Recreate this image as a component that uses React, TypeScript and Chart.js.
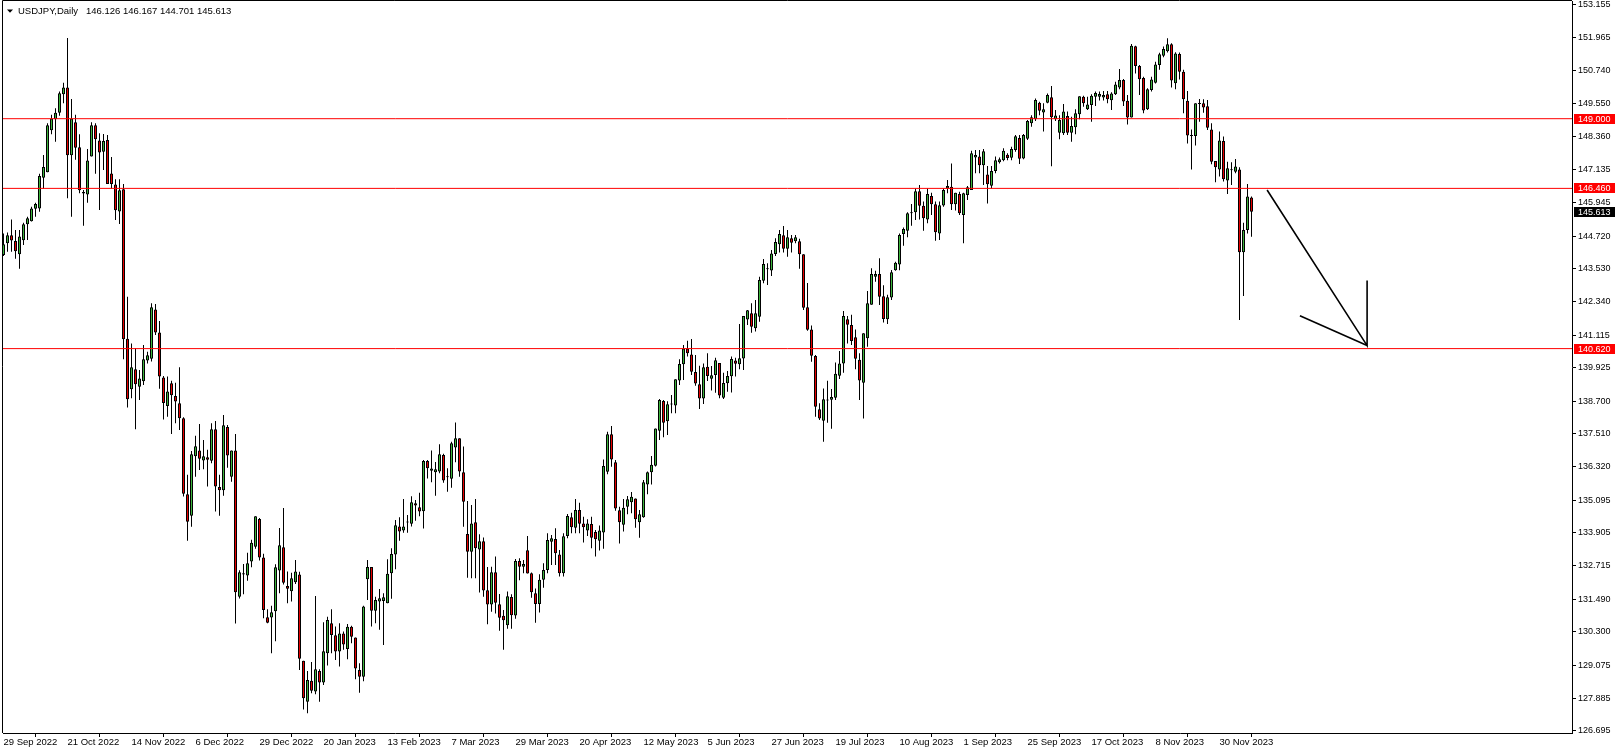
import React, { useEffect, useRef } from 'react';
import { Chart, registerables } from 'chart.js';

Chart.register(...registerables);

const symbolTitle = 'USDJPY,Daily';

const opens = [
  144.03, 144.46, 144.75, 144.54, 144.06, 144.57, 145.15, 145.26, 145.72, 145.73,
  146.85, 147.05, 148.58, 148.98, 149.22, 149.89, 150.14, 147.67, 148.87, 147.96,
  146.33, 146.24, 147.62, 148.76, 148.21, 147.80, 148.22, 147.00, 146.60, 145.62,
  146.43, 140.98, 139.14, 139.87, 139.23, 139.43, 140.19, 140.25, 142.05, 141.21,
  139.57, 138.53, 139.36, 138.89, 138.63, 138.08, 135.31, 134.53, 136.70, 136.91,
  136.54, 136.66, 136.53, 137.68, 135.58, 135.46, 137.76, 135.95, 136.91, 131.58,
  132.39, 132.35, 132.86, 133.40, 134.41, 133.01, 130.83, 130.82, 131.05, 132.53,
  133.38, 131.97, 131.78, 132.10, 132.39, 129.24, 127.75, 128.51, 128.12, 128.87,
  128.45, 129.52, 130.61, 130.17, 129.58, 130.24, 129.67, 130.48, 130.09, 128.91,
  128.66, 132.21, 132.66, 131.07, 131.40, 131.42, 131.34, 132.43, 133.12, 134.14,
  133.99, 134.28, 134.24, 134.98, 134.84, 134.69, 136.52, 136.17, 136.11, 136.14,
  136.74, 135.94, 135.88, 137.02, 137.35, 136.11, 133.86, 133.22, 134.29, 133.30,
  133.60, 131.81, 131.29, 132.47, 131.30, 130.88, 130.54, 131.57, 130.89, 132.88,
  132.67, 133.27, 132.43, 131.70, 131.31, 132.20, 132.55, 133.58, 133.68, 133.12,
  132.43, 133.79, 134.47, 134.09, 134.74, 134.25, 133.99, 134.23, 133.94, 133.62,
  133.92, 136.13, 137.50, 136.48, 134.73, 134.20, 134.86, 135.02, 135.16, 134.29,
  134.47, 135.67, 136.11, 136.35, 137.63, 138.71, 137.97, 138.58, 138.55, 139.46,
  140.05, 140.62, 140.41, 139.77, 139.32, 138.80, 139.96, 139.52, 139.66, 140.10,
  138.83, 139.36, 139.61, 140.19, 140.05, 140.26, 141.68, 141.91, 141.36, 141.78,
  143.09, 143.51, 143.47, 144.07, 144.42, 144.75, 144.26, 144.64, 144.53, 144.53,
  144.06, 142.13, 141.32, 140.35, 138.41, 137.99, 138.73, 138.76, 138.83, 139.63,
  140.08, 141.69, 141.48, 141.03, 140.21, 139.38, 141.00, 142.22, 143.24, 143.34,
  142.53, 141.69, 142.48, 143.48, 143.69, 144.80, 144.92, 145.55, 145.59, 146.36,
  145.83, 145.33, 146.18, 145.88, 144.82, 145.84, 146.46, 146.52, 145.88, 146.26,
  145.49, 146.22, 146.40, 147.59, 147.62, 147.30, 146.97, 146.56, 147.09, 147.41,
  147.49, 147.69, 147.58, 147.86, 148.30, 147.55, 148.27, 148.83, 148.98, 149.58,
  149.23, 149.58, 149.78, 148.98, 148.49, 148.47, 149.10, 148.49, 148.69, 149.16,
  149.80, 149.34, 149.50, 149.80, 149.80, 149.77, 149.89, 149.67, 149.89, 150.14,
  150.41, 149.65, 149.04, 151.64, 150.92, 150.48, 149.34, 150.05, 150.31, 150.96,
  151.29, 151.46, 151.71, 150.29, 151.36, 150.71, 149.65, 148.39, 148.37, 149.54,
  149.56, 149.45, 148.61, 147.46, 147.15, 148.19, 146.75, 147.12, 147.07, 147.15,
  144.13, 144.94, 146.126,
];

const highs = [
  144.82, 144.85, 145.33, 144.94, 144.94, 145.21, 145.43, 145.79, 145.94, 146.99,
  147.68, 148.83, 149.14, 149.38, 149.99, 150.31, 151.94, 149.72, 149.14, 148.43,
  146.40, 147.90, 148.87, 148.83, 148.47, 148.44, 148.41, 147.60, 146.79, 146.79,
  146.62, 142.51, 140.81, 140.63, 139.84, 140.75, 140.51, 142.27, 142.25, 141.63,
  139.62, 139.60, 139.45, 139.38, 139.94, 138.12, 136.02, 136.89, 137.44, 137.87,
  137.29, 136.93, 137.90, 137.98, 136.02, 138.20, 137.84, 136.91, 137.51, 132.54,
  132.77, 133.18, 133.65, 134.51, 134.45, 133.14, 131.12, 131.25, 132.76, 134.08,
  134.81, 132.50, 132.45, 132.92, 132.49, 129.24, 128.87, 129.20, 131.60, 128.93,
  130.65, 130.85, 131.12, 130.49, 130.61, 130.31, 130.58, 130.52, 130.09, 129.15,
  131.25, 132.92, 132.66, 131.58, 131.86, 131.70, 132.94, 133.34, 134.37, 134.47,
  135.14, 134.56, 135.24, 135.10, 135.37, 136.56, 136.56, 136.91, 136.49, 137.13,
  136.79, 136.26, 137.23, 137.93, 137.35, 137.05, 135.07, 134.92, 135.14, 133.85,
  133.74, 132.66, 132.67, 133.04, 131.68, 131.09, 131.77, 131.67, 132.95, 132.98,
  132.92, 133.79, 132.46, 131.88, 132.40, 132.80, 133.89, 133.83, 134.07, 133.28,
  133.89, 134.59, 134.64, 135.14, 135.00, 134.49, 134.40, 134.49, 134.01, 134.17,
  136.58, 137.59, 137.80, 136.56, 134.86, 135.14, 135.25, 135.39, 135.16, 134.74,
  135.83, 136.14, 136.71, 137.71, 138.78, 138.75, 138.70, 138.93, 139.50, 140.23,
  140.75, 140.91, 140.97, 140.39, 140.00, 140.08, 140.45, 139.99, 140.29, 140.10,
  139.74, 139.80, 140.33, 140.29, 141.52, 141.81, 142.03, 142.27, 142.39, 143.24,
  143.89, 143.73, 144.21, 144.64, 144.94, 145.09, 144.94, 144.76, 144.76, 144.62,
  144.06, 143.01, 141.46, 140.39, 138.63, 139.17, 139.45, 139.15, 140.11, 140.53,
  141.99, 141.81, 141.85, 141.32, 140.45, 141.18, 142.72, 143.55, 143.46, 143.91,
  142.93, 142.58, 143.49, 143.79, 144.82, 145.03, 145.59, 145.89, 146.46, 146.58,
  145.98, 146.46, 146.30, 145.98, 145.98, 146.46, 146.77, 147.37, 146.30, 146.34,
  146.30, 146.55, 147.83, 147.86, 147.86, 147.90, 147.28, 147.28, 147.62, 147.59,
  147.92, 147.74, 147.98, 148.41, 148.41, 148.44, 148.95, 149.13, 149.74, 149.62,
  149.56, 149.92, 150.19, 149.32, 149.13, 149.54, 149.26, 149.07, 149.34, 149.82,
  149.84, 149.80, 149.89, 149.99, 149.99, 150.01, 150.01, 149.96, 150.35, 150.81,
  150.45, 149.86, 151.72, 151.66, 150.96, 150.53, 150.11, 150.53, 151.08, 151.40,
  151.63, 151.93, 151.75, 151.42, 151.41, 150.78, 150.01, 148.61, 149.56, 149.72,
  149.71, 149.68, 148.83, 147.46, 148.53, 148.35, 147.43, 147.41, 147.53, 147.23,
  145.21, 146.62, 146.167,
];

const lows = [
  144.00, 144.15, 144.15, 143.90, 143.53, 144.40, 144.58, 145.25, 145.43, 145.61,
  146.45, 147.05, 148.43, 148.16, 149.11, 149.56, 146.10, 145.43, 147.50, 146.28,
  145.10, 145.94, 147.62, 146.99, 145.67, 147.13, 146.62, 146.46, 145.31, 145.16,
  140.23, 138.47, 138.81, 137.68, 138.75, 139.29, 140.08, 140.15, 141.12, 139.16,
  138.04, 138.14, 137.51, 137.90, 137.65, 135.23, 133.62, 134.13, 135.95, 136.20,
  136.22, 135.59, 136.44, 134.68, 134.53, 135.26, 136.28, 135.77, 130.60, 131.51,
  131.67, 132.16, 132.65, 133.33, 132.90, 130.79, 130.61, 129.52, 129.95, 131.70,
  132.02, 131.34, 131.40, 132.04, 128.91, 127.47, 127.33, 128.06, 128.02, 127.75,
  128.36, 129.07, 129.52, 129.27, 129.03, 129.64, 129.30, 129.88, 128.57, 128.08,
  128.50, 131.46, 130.49, 130.61, 130.37, 129.82, 131.34, 131.50, 132.58, 133.62,
  133.91, 133.91, 134.14, 134.35, 134.51, 134.06, 135.89, 135.75, 135.26, 136.08,
  135.73, 135.40, 135.55, 136.48, 135.95, 134.13, 132.27, 132.25, 132.25, 131.73,
  131.58, 130.57, 131.03, 130.97, 130.34, 129.64, 130.41, 130.41, 130.77, 132.18,
  132.43, 132.42, 131.54, 130.63, 131.00, 131.90, 132.43, 132.73, 132.73, 132.31,
  132.31, 133.71, 133.89, 133.89, 133.89, 133.55, 133.79, 133.34, 133.04, 133.26,
  133.33, 136.04, 136.31, 134.71, 133.52, 133.95, 134.58, 134.62, 134.09, 133.73,
  134.46, 135.31, 135.67, 136.32, 137.29, 137.39, 137.47, 138.26, 138.26, 139.29,
  139.48, 140.33, 139.66, 139.27, 138.42, 138.60, 139.44, 139.09, 139.01, 138.81,
  138.78, 139.05, 139.02, 139.60, 139.87, 139.84, 141.48, 141.20, 141.24, 141.60,
  143.00, 142.94, 143.27, 144.00, 144.12, 144.12, 143.97, 144.12, 144.46, 143.53,
  142.03, 141.27, 140.14, 138.14, 138.02, 137.23, 137.92, 137.70, 138.75, 139.51,
  139.74, 140.81, 140.75, 139.87, 138.75, 138.07, 140.69, 142.22, 143.06, 142.21,
  141.57, 141.52, 142.39, 143.46, 143.48, 144.37, 144.68, 145.10, 145.31, 145.33,
  144.92, 145.19, 145.49, 144.55, 144.58, 145.79, 146.28, 145.67, 145.65, 145.49,
  144.46, 146.04, 146.40, 147.01, 147.01, 146.58, 145.91, 146.46, 147.01, 147.37,
  147.45, 147.49, 147.49, 147.80, 147.35, 147.52, 148.22, 148.71, 148.92, 149.13,
  148.53, 149.56, 147.27, 148.92, 148.25, 148.41, 148.41, 148.16, 148.43, 148.98,
  149.44, 149.32, 148.89, 149.46, 149.66, 149.66, 149.56, 149.32, 149.86, 150.07,
  149.46, 148.79, 149.04, 150.65, 149.86, 149.20, 149.32, 149.99, 150.28, 150.78,
  151.24, 151.41, 150.14, 150.07, 150.43, 149.20, 148.10, 147.15, 148.02, 148.89,
  149.22, 148.59, 147.34, 146.68, 146.89, 146.71, 146.26, 146.58, 147.01, 141.66,
  142.54, 144.82, 144.701,
];

const closes = [
  144.42, 144.75, 144.56, 144.17, 144.71, 145.15, 145.37, 145.73, 145.89, 146.91,
  147.24, 148.76, 149.01, 149.22, 149.93, 150.14, 147.67, 149.01, 147.94, 146.39,
  146.27, 147.48, 148.76, 148.25, 147.77, 148.19, 146.62, 146.62, 145.66, 146.39,
  140.96, 138.77, 139.94, 139.32, 139.53, 140.23, 140.38, 142.13, 141.21, 139.60,
  138.64, 139.06, 138.92, 138.69, 138.08, 135.33, 134.31, 136.77, 137.06, 136.61,
  136.70, 136.57, 137.68, 135.59, 135.46, 137.83, 136.72, 136.91, 131.74, 132.47,
  132.43, 132.80, 133.54, 134.51, 133.01, 131.09, 130.63, 131.01, 132.65, 133.45,
  132.09, 131.87, 132.25, 132.50, 129.32, 127.88, 128.54, 128.15, 128.93, 128.45,
  129.59, 130.73, 130.18, 129.58, 130.24, 129.84, 130.48, 130.12, 128.96, 128.66,
  131.22, 132.66, 131.07, 131.46, 131.52, 131.56, 132.41, 133.13, 134.18, 133.95,
  134.14, 134.29, 135.02, 134.90, 134.68, 136.52, 136.26, 136.25, 136.22, 136.77,
  135.81, 135.93, 137.17, 137.35, 136.14, 135.04, 133.22, 134.25, 133.34, 133.60,
  131.80, 131.29, 132.47, 131.36, 130.81, 130.72, 131.59, 130.90, 132.88, 132.67,
  132.77, 132.42, 131.74, 131.31, 132.20, 132.55, 133.64, 133.71, 133.16, 132.43,
  133.78, 134.52, 134.11, 134.74, 134.24, 134.11, 134.25, 133.73, 133.67, 133.99,
  136.34, 137.50, 136.58, 134.79, 134.29, 134.82, 135.13, 135.22, 134.40, 134.58,
  135.75, 136.11, 136.39, 137.71, 138.75, 137.92, 138.59, 138.60, 139.50, 140.06,
  140.62, 140.45, 139.78, 139.35, 138.80, 139.94, 139.62, 139.65, 140.20, 138.91,
  139.37, 139.62, 140.24, 140.07, 140.27, 141.81, 142.02, 141.42, 141.91, 143.12,
  143.70, 143.55, 144.09, 144.51, 144.80, 144.26, 144.68, 144.48, 144.68, 144.06,
  142.11, 141.31, 140.36, 138.50, 138.07, 138.77, 138.75, 138.86, 139.70, 140.08,
  141.81, 141.49, 140.90, 140.25, 139.46, 141.18, 142.27, 143.34, 143.34, 142.51,
  141.70, 142.49, 143.40, 143.75, 144.76, 144.98, 145.55, 145.59, 146.36, 145.83,
  145.37, 146.26, 145.88, 144.86, 145.85, 146.40, 146.55, 145.88, 146.30, 145.55,
  146.28, 146.50, 147.74, 147.68, 147.30, 147.81, 146.61, 147.09, 147.49, 147.52,
  147.83, 147.57, 147.90, 148.36, 147.54, 148.41, 148.92, 149.05, 149.68, 149.29,
  149.34, 149.86, 149.05, 149.12, 148.95, 149.26, 148.49, 148.73, 149.20, 149.82,
  149.56, 149.52, 149.84, 149.94, 149.90, 149.86, 149.71, 149.92, 150.25, 150.41,
  149.63, 149.04, 151.66, 150.92, 150.44, 149.30, 150.07, 150.43, 150.98, 151.35,
  151.54, 151.71, 150.39, 151.38, 150.71, 149.71, 148.39, 148.37, 149.56, 149.57,
  149.41, 148.67, 147.43, 147.23, 148.21, 146.79, 147.19, 147.15, 147.26, 144.13,
  144.94, 146.16, 145.613,
];

const dateLabels = [
  '29 Sep 2022', '21 Oct 2022', '14 Nov 2022', '6 Dec 2022', '29 Dec 2022',
  '20 Jan 2023', '13 Feb 2023', '7 Mar 2023', '29 Mar 2023', '20 Apr 2023',
  '12 May 2023', '5 Jun 2023', '27 Jun 2023', '19 Jul 2023', '10 Aug 2023',
  '1 Sep 2023', '25 Sep 2023', '17 Oct 2023', '8 Nov 2023', '30 Nov 2023',
];
const dateLabelStep = 16;

const priceTicks = [
  153.155, 151.965, 150.74, 149.55, 148.36, 147.135, 145.945, 144.72, 143.53,
  142.34, 141.115, 139.925, 138.7, 137.51, 136.32, 135.095, 133.905, 132.715,
  131.49, 130.3, 129.075, 127.885, 126.695,
];

const levelPrices = [149.0, 146.46, 140.62];

const arrowShaftX = [315.9, 340.9, 340.9];
const arrowShaftY = [146.4, 140.73, 143.1];
const arrowWingX = [324.1, 340.9];
const arrowWingY = [141.82, 140.73];

const X_MIN = -0.125;
const X_MAX = 392.125;
const Y_MIN = 126.61;
const Y_MAX = 153.29;

const BULL = '#3cb43c';
const BEAR = '#e60000';
const LEVEL = '#ff0000';
const FONT = '"Liberation Sans", Arial, sans-serif';

const fmt = (v: number) => v.toFixed(3);

const overlayPlugin = {
  id: 'mtOverlay',
  afterDraw(chart: any) {
    const { ctx, chartArea, scales } = chart;
    const ys = scales.y;
    ctx.save();
    // frame
    ctx.strokeStyle = '#000';
    ctx.lineWidth = 1;
    ctx.beginPath();
    ctx.moveTo(chartArea.left - 0.5, chartArea.bottom);
    ctx.lineTo(chartArea.left - 0.5, chartArea.top - 0.5);
    ctx.lineTo(chartArea.right, chartArea.top - 0.5);
    ctx.stroke();

    // title
    ctx.fillStyle = '#000';
    ctx.beginPath();
    ctx.moveTo(7, 9.5);
    ctx.lineTo(13, 9.5);
    ctx.lineTo(10, 12.8);
    ctx.closePath();
    ctx.fill();
    ctx.font = `9.5px ${FONT}`;
    ctx.textBaseline = 'alphabetic';
    ctx.textAlign = 'left';
    ctx.fillText(symbolTitle, 18, 14);
    const last = closes.length - 1;
    const ohlc = [opens[last], highs[last], lows[last], closes[last]].map(fmt).join(' ');
    ctx.fillText(ohlc, 86, 14);

    // price tags
    ctx.font = `9px ${FONT}`;
    ctx.textBaseline = 'middle';
    const tag = (price: number, bg: string) => {
      const py = Math.round(ys.getPixelForValue(price));
      ctx.fillStyle = bg;
      ctx.fillRect(chartArea.right + 2, py - 5, 41, 10);
      ctx.fillStyle = '#fff';
      ctx.fillText(fmt(price), chartArea.right + 6, py + 0.5);
    };
    levelPrices.forEach((p) => tag(p, LEVEL));
    tag(closes[last], '#000');
    ctx.restore();
  },
};

export default function App() {
  const ref = useRef<HTMLCanvasElement | null>(null);

  useEffect(() => {
    document.body.style.margin = '0';
    document.body.style.overflow = 'hidden';
    const idx = closes.map((_, i) => i);
    const bodyColors = idx.map((i) => (closes[i] >= opens[i] ? BULL : BEAR));

    const datasets: any[] = [
      ...levelPrices.map((p) => ({
        type: 'line',
        data: [
          { x: X_MIN, y: p },
          { x: X_MAX, y: p },
        ],
        borderColor: LEVEL,
        borderWidth: 1,
        pointRadius: 0,
        tension: 0,
        fill: false,
        order: 0,
      })),
      {
        type: 'line',
        data: arrowShaftX.map((x, k) => ({ x, y: arrowShaftY[k] })),
        borderColor: '#000',
        borderWidth: 1.6,
        pointRadius: 0,
        tension: 0,
        fill: false,
        order: 0,
      },
      {
        type: 'line',
        data: arrowWingX.map((x, k) => ({ x, y: arrowWingY[k] })),
        borderColor: '#000',
        borderWidth: 1.6,
        pointRadius: 0,
        tension: 0,
        fill: false,
        order: 0,
      },
      {
        type: 'bar',
        data: idx.map((i) => ({ x: i, y: [opens[i], closes[i]] })),
        backgroundColor: bodyColors,
        borderColor: '#000',
        borderWidth: 1,
        borderSkipped: false,
        barThickness: 3,
        minBarLength: 1,
        inflateAmount: 0,
        grouped: false,
        order: 1,
      },
      {
        type: 'bar',
        data: idx.map((i) => ({ x: i, y: [lows[i], highs[i]] })),
        backgroundColor: '#000',
        borderWidth: 0,
        barThickness: 1,
        minBarLength: 1,
        inflateAmount: 0,
        grouped: false,
        order: 2,
      },
    ];

    const chart = new Chart(ref.current as HTMLCanvasElement, {
      type: 'bar',
      data: { datasets },
      options: {
        responsive: false,
        animation: false,
        devicePixelRatio: 1,
        layout: { padding: { left: 3, top: 1, right: 0, bottom: 0 } },
        plugins: {
          legend: { display: false },
          tooltip: { enabled: false },
          title: { display: false },
        },
        events: [],
        scales: {
          x: {
            type: 'linear',
            min: X_MIN,
            max: X_MAX,
            offset: false,
            afterBuildTicks: (s: any) => {
              s.ticks = dateLabels.map((_, k) => ({ value: k * dateLabelStep }));
            },
            afterFit: (s: any) => {
              s.height = 21;
              s.paddingLeft = 0;
              s.paddingRight = 0;
            },
            ticks: {
              autoSkip: false,
              maxRotation: 0,
              minRotation: 0,
              align: 'start',
              padding: 0,
              color: '#000',
              font: { family: FONT, size: 9.5 },
              callback: (_v: any, k: number) => dateLabels[k] ?? '',
            },
            grid: {
              drawOnChartArea: false,
              drawTicks: true,
              tickLength: 4,
              tickColor: '#000',
              color: '#000',
            },
            border: { display: true, color: '#000', width: 1 },
          },
          y: {
            type: 'linear',
            position: 'right',
            min: Y_MIN,
            max: Y_MAX,
            afterBuildTicks: (s: any) => {
              s.ticks = priceTicks.map((v) => ({ value: v }));
            },
            afterFit: (s: any) => {
              s.width = 46;
              s.paddingTop = 0;
              s.paddingBottom = 0;
            },
            ticks: {
              autoSkip: false,
              padding: 2,
              color: '#000',
              font: { family: FONT, size: 9 },
              callback: (v: any) => fmt(Number(v)),
            },
            grid: {
              drawOnChartArea: false,
              drawTicks: true,
              tickLength: 4,
              tickColor: '#000',
              color: '#000',
            },
            border: { display: true, color: '#000', width: 1 },
          },
        },
      } as any,
      plugins: [overlayPlugin],
    });
    return () => chart.destroy();
  }, []);

  return (
    <div style={{ width: 1618, height: 754, background: '#fff' }}>
      <canvas ref={ref} width={1618} height={754} style={{ display: 'block' }} />
    </div>
  );
}
